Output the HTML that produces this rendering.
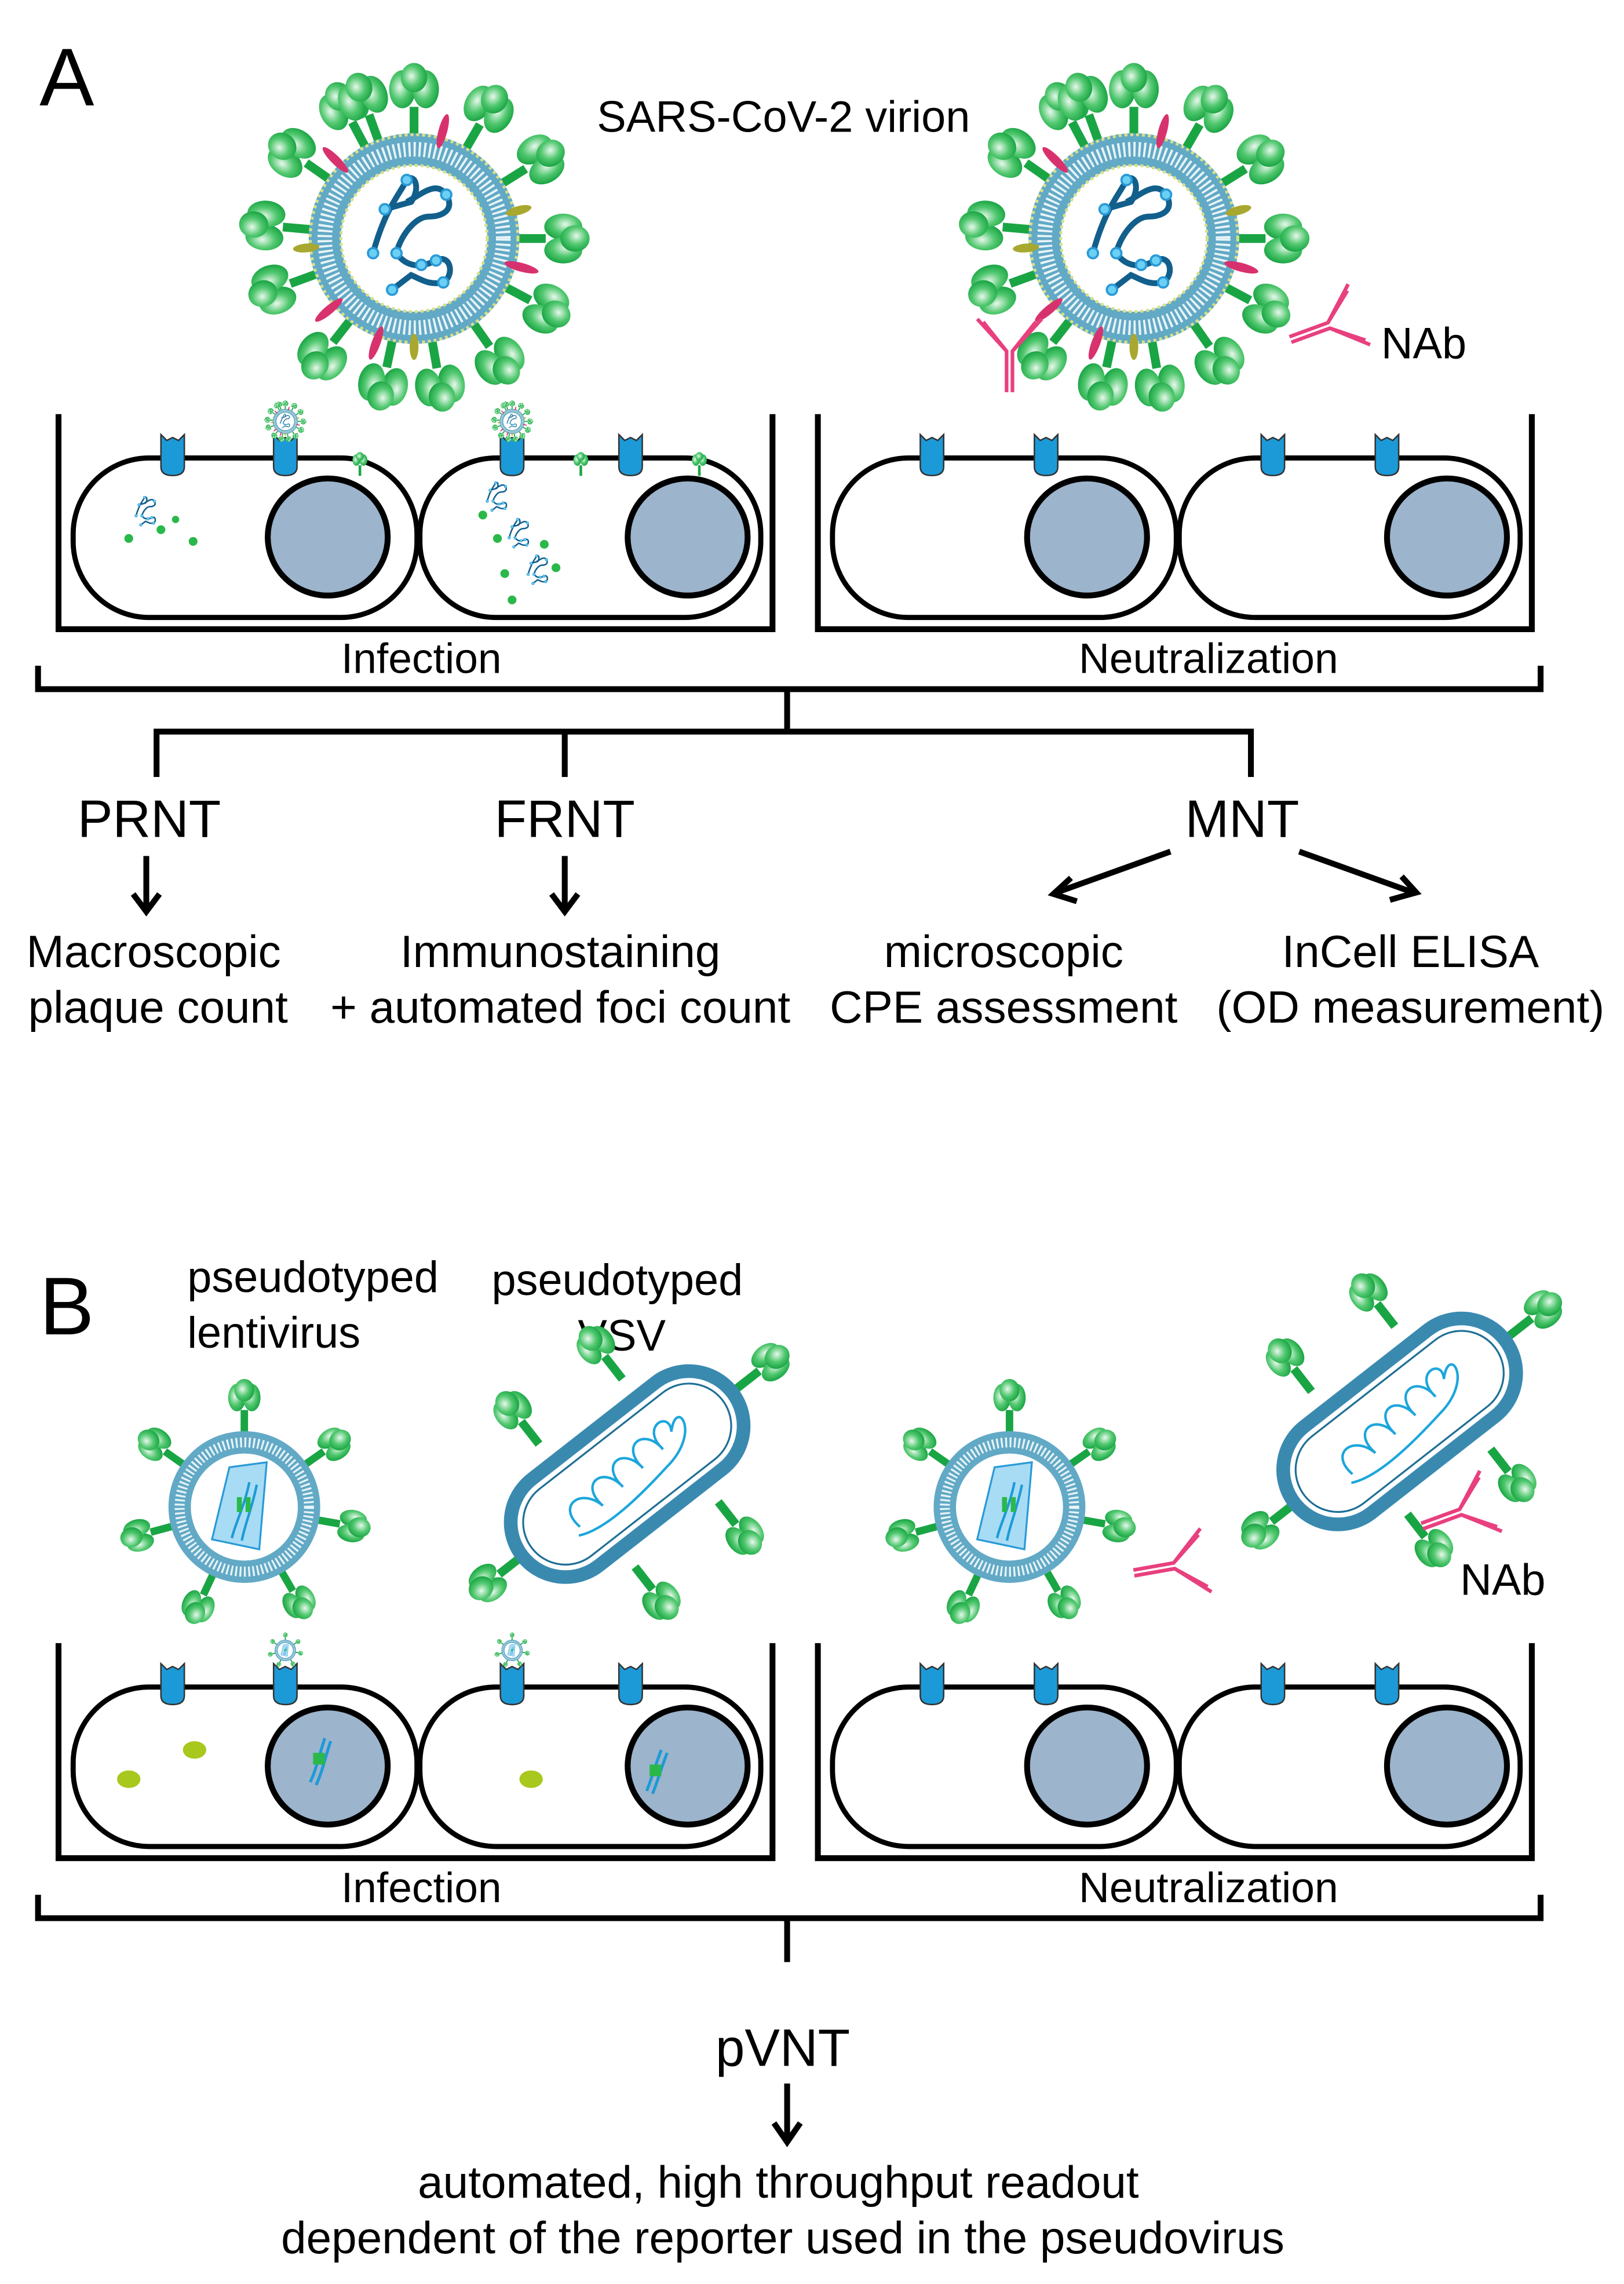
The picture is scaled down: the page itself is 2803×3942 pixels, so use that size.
<!DOCTYPE html>
<html><head><meta charset="utf-8"><style>
html,body{margin:0;padding:0;background:#fff}
svg{display:block}
text{font-family:"Liberation Sans",Arial,sans-serif;fill:#000}
</style></head><body>
<svg width="2803" height="3942" viewBox="0 0 1110 1561" xmlns="http://www.w3.org/2000/svg">
<defs>
<radialGradient id="hg" cx="0.4" cy="0.45" r="0.6"><stop offset="0" stop-color="#e8f8ec"/><stop offset="0.55" stop-color="#52c870"/><stop offset="1" stop-color="#1aa544"/></radialGradient>
<g id="sp">
<rect x="-3" y="-90" width="6" height="24" fill="#1aa544"/>
<ellipse cx="-8" cy="-102" rx="9" ry="13" fill="url(#hg)"/>
<ellipse cx="8" cy="-102" rx="9" ry="13" fill="url(#hg)"/>
<ellipse cx="0" cy="-110" rx="9" ry="10" fill="url(#hg)"/>
</g>
<g id="sps">
<rect x="-3" y="-78" width="6" height="20" fill="#1aa544"/>
<ellipse cx="-6" cy="-88" rx="7" ry="11" fill="url(#hg)"/>
<ellipse cx="6" cy="-88" rx="7" ry="11" fill="url(#hg)"/>
<ellipse cx="0" cy="-94" rx="8" ry="9" fill="url(#hg)"/>
</g>
<g id="gen" fill="none" stroke="#125f8c" stroke-width="4">
<path d="M-28,10 C-20,-20 -10,-30 -5,-40 C0,-45 5,-35 -2,-25 L-20,-20"/>
<path d="M-5,-25 C5,-30 15,-40 22,-30 C28,-20 20,-15 10,-15 C0,-15 -10,0 -12,10 C-5,20 5,20 15,15 C25,10 28,25 20,30 C10,32 5,28 -2,25 L-15,35"/>
<g fill="#6cd0f5" stroke="#2a9ad6" stroke-width="1.5"><circle cx="-5" cy="-40" r="3.5"/><circle cx="-20" cy="-20" r="3.5"/><circle cx="22" cy="-30" r="3.5"/><circle cx="-28" cy="10" r="3.5"/><circle cx="-12" cy="10" r="3.5"/><circle cx="15" cy="15" r="3.5"/><circle cx="20" cy="30" r="3.5"/><circle cx="-15" cy="35" r="3.5"/><circle cx="5" cy="18" r="3.5"/></g>
</g>
<g id="virion">
<g>
<use href="#sp" transform="rotate(0)"/><use href="#sp" transform="rotate(30)"/><use href="#sp" transform="rotate(58)"/><use href="#sp" transform="rotate(90)"/><use href="#sp" transform="rotate(118)"/><use href="#sp" transform="rotate(145)"/><use href="#sp" transform="rotate(170)"/><use href="#sp" transform="rotate(192)"/><use href="#sp" transform="rotate(218)"/><use href="#sp" transform="rotate(250)"/><use href="#sp" transform="rotate(275)"/><use href="#sp" transform="rotate(305)"/><use href="#sp" transform="rotate(332)"/><use href="#sp" transform="rotate(-20)"/>
</g>
<circle r="61" fill="none" stroke="#62a9c6" stroke-width="22"/>
<circle r="61" fill="none" stroke="#e8f4f8" stroke-width="10" stroke-dasharray="1.5 2"/>
<circle r="71" fill="none" stroke="#d8e08a" stroke-width="2" stroke-dasharray="2 2"/>
<circle r="50" fill="#fff" stroke="#d8e08a" stroke-width="2" stroke-dasharray="2 2"/>
<g fill="#d8326e"><ellipse rx="3" ry="12" transform="rotate(-45) translate(0,-76)"/><ellipse rx="3" ry="12" transform="rotate(15) translate(0,-76)"/><ellipse rx="3" ry="12" transform="rotate(105) translate(0,-76)"/><ellipse rx="3" ry="12" transform="rotate(230) translate(0,-76)"/><ellipse rx="3" ry="12" transform="rotate(200) translate(0,-76)"/></g>
<g fill="#a8a830"><ellipse rx="3" ry="9" transform="rotate(75) translate(0,-74)"/><ellipse rx="3" ry="9" transform="rotate(265) translate(0,-74)"/><ellipse rx="3" ry="9" transform="rotate(180) translate(0,-74)"/></g>
<use href="#gen"/>
</g>
<path id="rec" d="M-8,-22 L-8,0 Q-8,6 0,6 Q8,6 8,0 L8,-22 L4,-18 L0,-20 L-4,-18 Z" fill="#1c9ad8" stroke="#333" stroke-width="1"/>
<g id="ab" fill="none" stroke="#e8407f" stroke-width="2.5">
<path d="M-2,0 L-2,-28 L-22,-50 M2,0 L2,-28 L22,-50 M-2,-28 L-18,-48 M2,-28 L18,-48"/>
</g>
<g id="lenti">
<use href="#sps" transform="rotate(0)"/><use href="#sps" transform="rotate(55)"/><use href="#sps" transform="rotate(100)"/><use href="#sps" transform="rotate(150)"/><use href="#sps" transform="rotate(205)"/><use href="#sps" transform="rotate(255)"/><use href="#sps" transform="rotate(305)"/>
<circle r="52" fill="none" stroke="#62a9c6" stroke-width="18"/>
<circle r="52" fill="none" stroke="#e8f4f8" stroke-width="8" stroke-dasharray="1.5 2"/>
<circle r="43" fill="#fff"/>
<path d="M-12,-32 L18,-36 L12,34 L-26,26 Z" fill="#a8dcf4" stroke="#2a9ad6" stroke-width="1.5"/>
<path d="M4,-20 C0,0 -8,15 -10,25 M10,-18 C6,2 0,15 -2,27" fill="none" stroke="#1c9ad8" stroke-width="2"/>
<rect x="-6" y="-8" width="4" height="12" fill="#2ab84a"/><rect x="1" y="-8" width="4" height="12" fill="#2ab84a"/>
</g>
<g id="vsvb">
<rect x="-106" y="-44" width="214" height="88" rx="44" fill="#fff" stroke="#3a8ab0" stroke-width="11"/>
<rect x="-96" y="-34" width="194" height="68" rx="34" fill="#fff" stroke="#1e6f96" stroke-width="1.5"/>
<path d="M-55,10 C-60,-15 -35,-15 -30,8 C-35,-18 -10,-18 -8,6 C-12,-20 12,-20 14,4 C10,-22 35,-22 36,2 C32,-24 60,-20 50,-5 C70,-25 70,10 30,15 C0,20 -40,25 -60,15" fill="none" stroke="#1ca6dc" stroke-width="2"/>
</g>
<g id="vsv">
<use href="#sps" transform="translate(-40,4) scale(1.15)"/><use href="#sps" transform="translate(45,4) scale(1.15)"/>
<use href="#sps" transform="translate(-40,-4) rotate(180) scale(1.15)"/><use href="#sps" transform="translate(45,-4) rotate(180) scale(1.15)"/>
<use href="#sps" transform="translate(-40,0) rotate(-90) scale(1.15)"/><use href="#sps" transform="translate(46,0) rotate(90) scale(1.15)"/>
<use href="#vsvb"/>
</g>
<g id="cells">
<path d="M0,0 V147 H488 V0" fill="none" stroke="#000" stroke-width="4"/>
<rect x="10" y="30" width="235" height="109" rx="52" fill="#fff" stroke="#000" stroke-width="3.5"/>
<rect x="247" y="30" width="233" height="109" rx="52" fill="#fff" stroke="#000" stroke-width="3.5"/>
<ellipse cx="184" cy="84" rx="41" ry="40" fill="#9cb4cc" stroke="#000" stroke-width="4"/>
<ellipse cx="430" cy="84" rx="41" ry="40" fill="#9cb4cc" stroke="#000" stroke-width="4"/>
</g>
</defs>

<!-- Panel A -->
<text x="27" y="72" font-size="56">A</text>
<text x="408" y="90" font-size="30">SARS-CoV-2 virion</text>
<use href="#virion" transform="translate(283,163)"/>
<use href="#virion" transform="translate(775,163)"/>
<use href="#ab" transform="translate(690,268)"/>
<use href="#ab" transform="translate(882,232) rotate(70)"/>
<text x="944" y="245" font-size="30">NAb</text>

<use href="#cells" transform="translate(40,283)"/>
<use href="#cells" transform="translate(559,283)"/>
<use href="#rec" transform="translate(118,319)"/>
<use href="#rec" transform="translate(195,319)"/>
<use href="#rec" transform="translate(431,319)"/>
<use href="#rec" transform="translate(350,319)"/>
<use href="#rec" transform="translate(637,319)"/>
<use href="#rec" transform="translate(715,319)"/>
<use href="#rec" transform="translate(870,319)"/>
<use href="#rec" transform="translate(948,319)"/>
<use href="#virion" transform="translate(195,288) scale(0.12)"/>
<use href="#virion" transform="translate(350,288) scale(0.12)"/>
<use href="#sp" transform="translate(246,345) scale(0.3)"/>
<use href="#sp" transform="translate(397,345) scale(0.3)"/>
<use href="#sp" transform="translate(478,345) scale(0.3)"/>
<g transform="translate(100,350) scale(0.25)"><use href="#gen"/></g>
<g transform="translate(340,340) scale(0.25)"><use href="#gen"/></g>
<g transform="translate(355,365) scale(0.25)"><use href="#gen"/></g>
<g transform="translate(368,390) scale(0.25)"><use href="#gen"/></g>
<g fill="#2ab84a"><circle cx="88" cy="368" r="3"/><circle cx="110" cy="362" r="3"/><circle cx="120" cy="355" r="2.5"/><circle cx="132" cy="370" r="3"/><circle cx="330" cy="352" r="3"/><circle cx="340" cy="368" r="3"/><circle cx="372" cy="372" r="3"/><circle cx="345" cy="392" r="3"/><circle cx="380" cy="388" r="3"/><circle cx="350" cy="410" r="3"/></g>

<text x="288" y="460" font-size="29" text-anchor="middle">Infection</text>
<text x="826" y="460" font-size="29" text-anchor="middle">Neutralization</text>
<path d="M26,455 V471 H1053 V455 M538,471 V500 M107,531 V500 H855 V531 M386,500 V531" fill="none" stroke="#000" stroke-width="4"/>
<text x="102" y="572" font-size="36" text-anchor="middle">PRNT</text>
<text x="386" y="572" font-size="36" text-anchor="middle">FRNT</text>
<text x="849" y="572" font-size="36" text-anchor="middle">MNT</text>
<g stroke="#000" stroke-width="4" fill="none">
<path d="M100,585 V622 M91,611 L100,623 L109,611"/>
<path d="M386,585 V622 M377,611 L386,623 L395,611"/>
<path d="M800,582 L722,610 M732,600 L720,611 L736,616"/>
<path d="M888,582 L966,610 M950,615 L968,610 L958,599"/>
</g>
<g font-size="31" text-anchor="middle">
<text x="105" y="661">Macroscopic</text><text x="108" y="699">plaque count</text>
<text x="383" y="661">Immunostaining</text><text x="383" y="699">+ automated foci count</text>
<text x="686" y="661">microscopic</text><text x="686" y="699">CPE assessment</text>
<text x="964" y="661">InCell ELISA</text><text x="964" y="699">(OD measurement)</text>
</g>

<!-- Panel B -->
<text x="27" y="912" font-size="56">B</text>
<g font-size="30"><text x="128" y="883">pseudotyped</text><text x="128" y="921">lentivirus</text><text x="336" y="885">pseudotyped</text><text x="425" y="923" text-anchor="middle">VSV</text></g>
<use href="#lenti" transform="translate(167,1030) scale(0.85)"/>
<use href="#vsv" transform="translate(428,1008) rotate(-38) scale(0.85)"/>
<use href="#lenti" transform="translate(690,1030) scale(0.85)"/>
<use href="#vsv" transform="translate(956,972) rotate(-38) scale(0.85)"/>
<use href="#ab" transform="translate(775,1075) rotate(80)"/>
<use href="#ab" transform="translate(972,1043) rotate(70)"/>
<text x="998" y="1090" font-size="30">NAb</text>

<use href="#cells" transform="translate(40,1123)"/>
<use href="#cells" transform="translate(559,1123)"/>
<use href="#rec" transform="translate(118,1159)"/>
<use href="#rec" transform="translate(195,1159)"/>
<use href="#rec" transform="translate(350,1159)"/>
<use href="#rec" transform="translate(431,1159)"/>
<use href="#rec" transform="translate(637,1159)"/>
<use href="#rec" transform="translate(715,1159)"/>
<use href="#rec" transform="translate(870,1159)"/>
<use href="#rec" transform="translate(948,1159)"/>
<use href="#lenti" transform="translate(195,1128) scale(0.12)"/>
<use href="#lenti" transform="translate(350,1128) scale(0.12)"/>
<g fill="#a8c81e"><ellipse cx="88" cy="1216" rx="8" ry="6"/><ellipse cx="133" cy="1196" rx="8" ry="6"/><ellipse cx="363" cy="1216" rx="8" ry="6"/></g>
<g fill="none" stroke="#1c9ad8" stroke-width="2"><path d="M222,1188 C218,1200 216,1210 212,1218 M226,1190 C222,1202 220,1212 216,1220 M452,1196 C448,1206 446,1214 442,1224 M456,1198 C452,1208 450,1216 446,1226"/></g>
<rect x="214" y="1198" width="8" height="8" fill="#2ab84a"/><rect x="444" y="1206" width="8" height="8" fill="#2ab84a"/>

<text x="288" y="1300" font-size="29" text-anchor="middle">Infection</text>
<text x="826" y="1300" font-size="29" text-anchor="middle">Neutralization</text>
<path d="M26,1295 V1311 H1053 V1295 M538,1311 V1341" fill="none" stroke="#000" stroke-width="4"/>
<text x="535" y="1412" font-size="36" text-anchor="middle">pVNT</text>
<path d="M538,1424 V1462 M529,1451 L538,1464 L547,1451" fill="none" stroke="#000" stroke-width="4"/>
<g font-size="31" text-anchor="middle"><text x="532" y="1502">automated, high throughput readout</text><text x="535" y="1540">dependent of the reporter used in the pseudovirus</text></g>
</svg>
</body></html>
